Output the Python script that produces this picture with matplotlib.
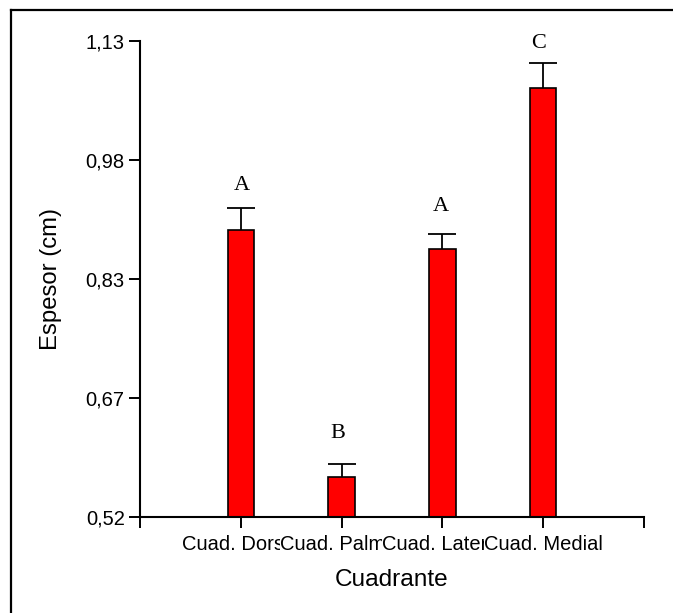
import numpy as np
import matplotlib
matplotlib.use('Agg')
import matplotlib.pyplot as plt
from matplotlib.lines import Line2D

# Data
categories = ['Cuad. Dorsal', 'Cuad. Palmar', 'Cuad. Lateral', 'Cuad. Medial']
means = [0.888, 0.571, 0.863, 1.070]
errors = [0.027, 0.016, 0.019, 0.032]
letters = ['A', 'B', 'A', 'C']
letter_y = [0.945, 0.626, 0.917, 1.126]
letter_dx = [0.01, -0.04, -0.02, -0.05]
yticks = [0.52, 0.6725, 0.825, 0.9775, 1.13]
yticklabels = ['0,52', '0,67', '0,83', '0,98', '1,13']

plt.rcParams['font.family'] = ['Liberation Sans', 'DejaVu Sans']

fig = plt.figure(figsize=(6.73, 6.13), dpi=100)
ax = fig.add_axes([140 / 673, 1 - 516.7 / 613, 504 / 673, 476 / 613])

x = np.arange(len(categories))

# error bars (upper only), drawn beneath the bars
eb = ax.errorbar(x, means, yerr=[np.zeros(len(means)), errors], fmt='none',
                 ecolor='black', elinewidth=1.3, capsize=10, capthick=1.3, zorder=1)
eb.lines[1][0].set_visible(False)  # hide lower caps

ax.bar(x, means, width=0.26, bottom=0, color='#ff0000', edgecolor='black',
       linewidth=1.2, zorder=2)

for i in range(len(letters)):
    ax.text(x[i] + letter_dx[i], letter_y[i], letters[i], ha='center', va='center',
            fontsize=16, family='Liberation Serif', zorder=3)

ax.set_xlim(-1, 4)
ax.set_ylim(0.52, 1.13)

ax.set_xticks([-1, 0, 1, 2, 3, 4])
ax.set_xticklabels([''] + categories + [''], fontsize=14.5)
for lbl in ax.get_xticklabels():
    lbl.set_bbox(dict(facecolor='white', edgecolor='none', boxstyle='square,pad=0'))
ax.set_yticks(yticks)
ax.set_yticklabels(yticklabels, fontsize=14.5)

ax.tick_params(axis='both', direction='out', length=8, width=1.4, color='black')
ax.tick_params(axis='x', pad=5)
ax.tick_params(axis='y', pad=3)

for side in ['top', 'right']:
    ax.spines[side].set_visible(False)
for side in ['left', 'bottom']:
    ax.spines[side].set_linewidth(1.5)
    ax.spines[side].set_color('black')

ax.set_xlabel('Cuadrante', fontsize=17.6)
ax.set_ylabel('Espesor (cm)', fontsize=17.2)
ax.xaxis.set_label_coords(0.5, -0.110)
ax.yaxis.set_label_coords(-0.155, 0.5)

# outer frame (top and left edges)
fig.add_artist(Line2D([11 / 673, 1.0], [1 - 10 / 613, 1 - 10 / 613],
                      transform=fig.transFigure, color='black', linewidth=1.6))
fig.add_artist(Line2D([11 / 673, 11 / 673], [0.0, 1 - 10 / 613],
                      transform=fig.transFigure, color='black', linewidth=1.6))

fig.savefig('out.png', dpi=100)
